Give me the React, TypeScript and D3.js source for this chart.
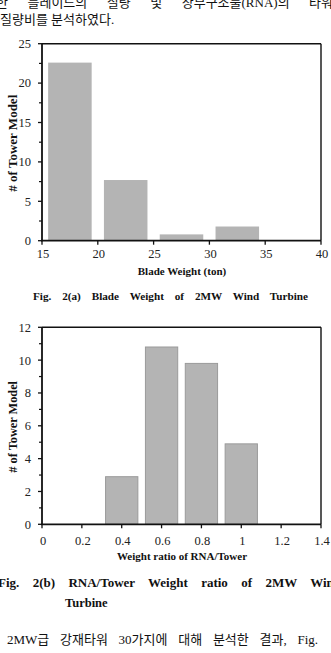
import React, {useLayoutEffect, useRef} from 'react';
import * as d3 from 'd3';

// Fig. 2(a): number of tower models per blade weight bin
const bladeCenters = [17.5, 22.5, 27.5, 32.5];
const bladeCounts = [22.6, 7.7, 0.8, 1.8];
const bladeTicksX = [15, 20, 25, 30, 35, 40];
const bladeTicksY = [0, 5, 10, 15, 20, 25];

// Fig. 2(b): number of tower models per RNA/Tower weight ratio bin
const ratioCenters = [0.4, 0.6, 0.8, 1.0];
const ratioCounts = [2.9, 10.8, 9.8, 4.9];
const ratioTicksX = [0, 0.2, 0.4, 0.6, 0.8, 1.0, 1.2, 1.4];
const ratioTicksY = [0, 2, 4, 6, 8, 10, 12];

const SERIF = '"Liberation Serif", "Times New Roman", serif';
const KR = '"Liberation Serif", "Noto Sans CJK KR", serif';

// text spread over a fixed width by widening the gaps between words
const JustText = ({x, y, x2, size, bold, family, children}) => {
    const ref = useRef(null);
    useLayoutEffect(() => {
        const el = ref.current;
        if (!el) return;
        el.style.wordSpacing = '0px';
        const natural = el.getComputedTextLength();
        const gaps = String(children).split(' ').length - 1;
        if (gaps > 0) el.style.wordSpacing = `${(x2 - x - natural) / gaps}px`;
    }, [x, x2, children]);
    return (
        <text ref={ref} x={x} y={y} fontSize={size} fontWeight={bold ? 'bold' : 'normal'}
              fontFamily={family || SERIF} fill="#111">{children}</text>
    );
};

const Panel = ({centers, counts, barW, xDomain, yDomain, xTicks, yTicks, minorStep,
                   top, bottom, xLabelDy, xTitle, xTitleY, yTitle, yTitleSize, outline}) => {
    const left = 42, right = 321;
    const x = d3.scaleLinear().domain(xDomain).range([left, right]);
    const y = d3.scaleLinear().domain(yDomain).range([bottom, top]);
    const minor = d3.range(yDomain[0] + minorStep, yDomain[1], minorStep * 2);
    const fmt = v => String(+v.toFixed(1));
    return (
        <g>
            {centers.map((c, i) => (
                <rect key={i} x={x(c - barW / 2)} y={y(counts[i])}
                      width={x(c + barW / 2) - x(c - barW / 2)} height={y(0) - y(counts[i])}
                      fill="#b4b4b4" stroke={outline} strokeWidth={outline ? 1 : 0}/>
            ))}
            {/* frame */}
            <line x1={left} x2={right} y1={top} y2={top} stroke="#111" strokeWidth={1.4}/>
            <line x1={right} x2={right} y1={top} y2={bottom} stroke="#111" strokeWidth={1.4}/>
            <line x1={left} x2={left} y1={top} y2={bottom + 0.5} stroke="#111" strokeWidth={1.8}/>
            <line x1={left - 0.9} x2={right} y1={bottom} y2={bottom} stroke="#111" strokeWidth={1.8}/>
            {/* y ticks */}
            {yTicks.map(t => (
                <g key={t}>
                    <line x1={left - 4} x2={left} y1={y(t)} y2={y(t)} stroke="#111" strokeWidth={1.3}/>
                    <text x={31} y={y(t)} dy="0.35em" textAnchor="end" fontSize={12.5}
                          fontFamily={SERIF} fill="#222">{t}</text>
                </g>
            ))}
            {minor.map(t => (
                <line key={t} x1={left - 3} x2={left} y1={y(t)} y2={y(t)} stroke="#111" strokeWidth={1.2}/>
            ))}
            {/* x ticks */}
            {xTicks.map(t => (
                <g key={t}>
                    <line x1={x(t)} x2={x(t)} y1={bottom} y2={bottom + 4} stroke="#111" strokeWidth={1.3}/>
                    <text x={x(t) + 1} y={bottom + xLabelDy} textAnchor="middle" fontSize={12.5}
                          fontFamily={SERIF} fill="#222">{fmt(t)}</text>
                </g>
            ))}
            <text x={182} y={xTitleY} textAnchor="middle" fontSize={11} fontWeight="bold"
                  fontFamily={SERIF} fill="#111">{xTitle}</text>
            <text transform={`translate(16.5,${(top + bottom) / 2 + 1}) rotate(-90)`} textAnchor="middle"
                  fontSize={yTitleSize} fontWeight="bold" fontFamily={SERIF} fill="#111">{yTitle}</text>
        </g>
    );
};

const App = () => (
    <svg width={331} height={653} style={{position: 'absolute', left: 0, top: 0, background: '#fff'}}>
        <JustText x={-4} x2={345} y={7} size={13} family={KR}>한 블레이드의 질량 및 상부구조물(RNA)의 타워와</JustText>
        <text x={0} y={24} fontSize={13} fontFamily={KR} fill="#111">질량비를 분석하였다.</text>

        <Panel centers={bladeCenters} counts={bladeCounts} barW={3.9} xDomain={[15, 40]} yDomain={[0, 25]}
               xTicks={bladeTicksX} yTicks={bladeTicksY} minorStep={2.5} top={43.7} bottom={240.7}
               xLabelDy={17} xTitle="Blade Weight (ton)" xTitleY={275} yTitle="# of Tower Model"
               yTitleSize={13} outline={null}/>
        <JustText x={33} x2={308} y={300} size={11.2} bold>Fig. 2(a) Blade Weight of 2MW Wind Turbine</JustText>

        <Panel centers={ratioCenters} counts={ratioCounts} barW={0.162} xDomain={[0, 1.4]} yDomain={[0, 12]}
               xTicks={ratioTicksX} yTicks={ratioTicksY} minorStep={1} top={327.3} bottom={524.3}
               xLabelDy={20.5} xTitle="Weight ratio of RNA/Tower" xTitleY={560} yTitle="# of Tower Model"
               yTitleSize={12.3} outline="#9a9a9a"/>
        <JustText x={-2} x2={341} y={587} size={13} bold>Fig. 2(b) RNA/Tower Weight ratio of 2MW Wind</JustText>
        <text x={65} y={607} fontSize={12.5} fontWeight="bold" fontFamily={SERIF} fill="#111">Turbine</text>

        <JustText x={7} x2={318} y={644} size={13} family={KR}>2MW급 강재타워 30가지에 대해 분석한 결과, Fig.</JustText>
    </svg>
);

export default App;
